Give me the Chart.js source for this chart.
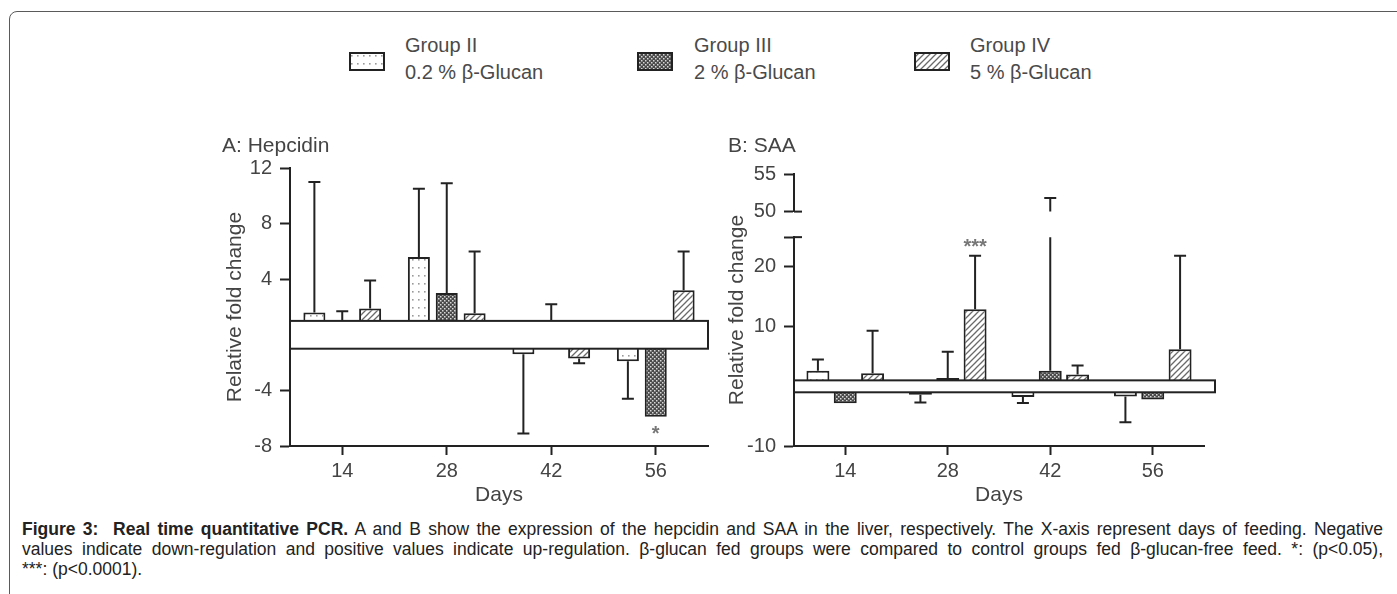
<!DOCTYPE html>
<html>
<head>
<meta charset="utf-8">
<script src="https://cdn.jsdelivr.net/npm/chart.js@4.4.1/dist/chart.umd.min.js"></script>
<style>
  body { margin: 0; width: 1397px; height: 594px; overflow: hidden; background: #fff; position: relative;
         font-family: "Liberation Sans", Arial, sans-serif; }
  .frame { position: absolute; left: 9px; top: 11px; width: 1420px; height: 640px;
           border: 1.5px solid #5a5a5a; border-radius: 8px; box-sizing: border-box; }
  .panel { position: absolute; top: 128px; }
  .legend-box { position: absolute; top: 52px; }
  .legend-text { position: absolute; top: 32px; font-size: 20px; line-height: 27px; color: #4a4a4a; white-space: nowrap; }
  .caption { position: absolute; left: 22px; top: 519px; width: 1361px; font-size: 17.5px; line-height: 20px; color: #222; }
  .caption div { white-space: nowrap; text-align: justify; text-align-last: justify; }
  .caption div.last { text-align-last: left; }
</style>
</head>
<body>
<div class="frame"></div>
<div id="legend"></div>
<canvas id="chartA" class="panel" style="left:212px" width="520" height="382"></canvas>
<canvas id="chartB" class="panel" style="left:718px" width="522" height="382"></canvas>
<div class="caption">
  <div><b>Figure 3:&nbsp; Real time quantitative PCR.</b> A and B show the expression of the hepcidin and SAA in the liver, respectively. The X-axis represent days of feeding. Negative</div>
  <div>values indicate down-regulation and positive values indicate up-regulation. β-glucan fed groups were compared to control groups fed β-glucan-free feed. *: (p&lt;0.05),</div>
  <div class="last">***: (p&lt;0.0001).</div>
</div>

<script>
const days = ['14', '28', '42', '56'];
const groupLabels = [['Group II', '0.2 % β-Glucan'], ['Group III', '2 % β-Glucan'], ['Group IV', '5 % β-Glucan']];

// A: Hepcidin - bar value and where its error bar ends
const hepGroup2 = [1.6, 5.6, -1.4, -1.9];
const hepGroup2Err = [11.0, 10.5, -7.1, -4.6];
const hepGroup3 = [1.05, 3.0, 1.05, -5.9];
const hepGroup3Err = [1.7, 10.9, 2.2, null];
const hepGroup4 = [1.9, 1.55, -1.7, 3.2];
const hepGroup4Err = [3.9, 6.0, -2.05, 6.0];
const hepGroup3Sig = ['', '', '', '*'];

// B: SAA
const saaGroup2 = [2.6, -1.4, -1.8, -1.7];
const saaGroup2Err = [4.5, -2.7, -2.8, -6.0];
const saaGroup3 = [-2.85, 1.4, 2.6, -2.2];
const saaGroup3Err = [null, 5.8, 51.8, null];
const saaGroup4 = [2.2, 12.9, 2.0, 6.2];
const saaGroup4Err = [9.3, 21.9, 3.5, 21.9];
const saaGroup4Sig = ['', '***', '', ''];

const hepTicks = [-8, -4, 0, 4, 8, 12];
const saaLowTicks = [-10, 0, 10, 20, 25];
const saaTopTicks = [50, 55];
const hiddenLabels = [0, 25];

const ink = '#444';
const line = '#222';
Chart.defaults.font.family = '"Liberation Sans", Arial, sans-serif';

function makePattern(kind) {
    let tile = document.createElement('canvas');
    let g = tile.getContext('2d');
    if (kind === 'dots') {
        tile.width = 6; tile.height = 8;
        g.fillStyle = '#fff'; g.fillRect(0, 0, 6, 8);
        g.fillStyle = '#9a9a9a'; g.fillRect(2, 3, 1.6, 1.6);
    } else if (kind === 'dense') {
        tile.width = 4; tile.height = 4;
        g.fillStyle = '#4a4a4a'; g.fillRect(0, 0, 4, 4);
        g.fillStyle = '#d8d8d8'; g.fillRect(0, 0, 1.5, 1.5); g.fillRect(2, 2, 1.5, 1.5);
    } else {
        tile.width = 6; tile.height = 6;
        g.fillStyle = '#fff'; g.fillRect(0, 0, 6, 6);
        g.strokeStyle = '#6a6a6a'; g.lineWidth = 1.3;
        g.beginPath();
        g.moveTo(0, 6); g.lineTo(6, 0);
        g.moveTo(-1, 1); g.lineTo(1, -1);
        g.moveTo(5, 7); g.lineTo(7, 5);
        g.stroke();
    }
    return g.createPattern(tile, 'repeat');
}
const patterns = [makePattern('dots'), makePattern('dense'), makePattern('hatch')];

// legend (shared by both panels)
const legendBoxLeft = [349, 637, 914];
const legendTextLeft = [405, 694, 970];
const legend = document.getElementById('legend');
groupLabels.forEach((lab, i) => {
    let box = document.createElement('canvas');
    box.width = 36; box.height = 19;
    box.className = 'legend-box';
    box.style.left = legendBoxLeft[i] + 'px';
    let g = box.getContext('2d');
    g.fillStyle = patterns[i]; g.fillRect(0, 0, 36, 19);
    g.strokeStyle = line; g.lineWidth = 2; g.strokeRect(1, 1, 34, 17);
    legend.appendChild(box);
    let txt = document.createElement('div');
    txt.className = 'legend-text';
    txt.style.left = legendTextLeft[i] + 'px';
    txt.innerHTML = lab[0] + '<br>' + lab[1];
    legend.appendChild(txt);
});

// white "no change" band, error bars, stars
const figDecor = {
    id: 'figDecor',
    afterDatasetsDraw(chart, args, opts) {
        const {ctx, chartArea} = chart;
        const y = chart.scales[opts.axis];
        const top = opts.topAxis ? chart.scales[opts.topAxis] : null;
        ctx.save();
        let bTop = y.getPixelForValue(opts.band[1]);
        let bBot = y.getPixelForValue(opts.band[0]);
        ctx.fillStyle = '#fff';
        ctx.strokeStyle = line;
        ctx.lineWidth = 2;
        ctx.fillRect(chartArea.left, bTop, chartArea.width + opts.bandExtra, bBot - bTop);
        ctx.strokeRect(chartArea.left, bTop, chartArea.width + opts.bandExtra, bBot - bTop);

        chart.data.datasets.forEach((ds, di) => {
            chart.getDatasetMeta(di).data.forEach((bar, i) => {
                let end = ds.errorEnd[i];
                let endPx = bar.y;
                if (end != null) {
                    ctx.beginPath();
                    if (top && end > y.max) {
                        ctx.moveTo(bar.x, bar.y); ctx.lineTo(bar.x, y.top);
                        ctx.moveTo(bar.x, top.getPixelForValue(top.min));
                        endPx = top.getPixelForValue(end);
                    } else {
                        ctx.moveTo(bar.x, bar.y);
                        endPx = y.getPixelForValue(end);
                    }
                    ctx.lineTo(bar.x, endPx);
                    ctx.moveTo(bar.x - 6, endPx); ctx.lineTo(bar.x + 6, endPx);
                    ctx.stroke();
                }
                let s = ds.sig && ds.sig[i];
                if (s) {
                    ctx.fillStyle = '#777';
                    ctx.font = 'bold 20px "Liberation Sans", Arial, sans-serif';
                    ctx.textAlign = 'center';
                    ctx.textBaseline = 'alphabetic';
                    let ty = ds.data[i] < 0 ? bar.y + 23 : endPx - 3;
                    ctx.fillText(s, bar.x, ty);
                }
            });
        });

        (opts.stubs || []).forEach(st => {
            let py = chart.scales[st[0]].getPixelForValue(st[1]);
            ctx.beginPath();
            ctx.moveTo(chartArea.left, py); ctx.lineTo(chartArea.left + 8, py);
            ctx.stroke();
        });

        if (opts.yTitle) {
            ctx.translate(chartArea.left - 57, (chartArea.top + chartArea.bottom) / 2);
            ctx.rotate(-Math.PI / 2);
            ctx.fillStyle = ink;
            ctx.font = '21px "Liberation Sans", Arial, sans-serif';
            ctx.textAlign = 'center';
            ctx.textBaseline = 'middle';
            ctx.fillText(opts.yTitle, 0, 0);
        }
        ctx.restore();
    }
};

function barSet(values, errs, sig, gi, axis, barPct) {
    return {
        label: groupLabels[gi].join(' '),
        data: values,
        errorEnd: errs,
        sig: sig,
        yAxisID: axis,
        backgroundColor: patterns[gi],
        borderColor: line,
        borderWidth: 2,
        borderSkipped: false,
        barPercentage: barPct,
        categoryPercentage: 0.8
    };
}

function xScale() {
    return {
        grid: { drawOnChartArea: false, offset: false, tickLength: 9, tickWidth: 2, tickColor: line },
        border: { color: line, width: 2 },
        ticks: { font: { size: 20 }, color: ink, padding: 4 },
        title: { display: true, text: 'Days', font: { size: 21 }, color: ink, padding: { top: 0, bottom: 2 } },
        afterFit: s => { s.height = 64; }
    };
}

function yScale(min, max, tickList, width) {
    return {
        type: 'linear',
        position: 'left',
        min: min,
        max: max,
        afterBuildTicks: s => { s.ticks = tickList.map(v => ({ value: v })); },
        ticks: { font: { size: 20 }, color: ink, padding: 8, autoSkip: false,
                 callback: v => hiddenLabels.includes(v) ? '' : v },
        grid: { drawOnChartArea: false, tickLength: 10, tickWidth: 2,
                tickColor: c => (c.tick && c.tick.value === 0) ? 'rgba(0,0,0,0)' : line },
        border: { color: line, width: 2 },
        afterFit: s => { s.width = width; }
    };
}

// Panel A
let yA = yScale(-8, 12, hepTicks, 68);
yA.title = { display: true, text: 'Relative fold change', font: { size: 21 }, color: ink, padding: { top: 1, bottom: 0 } };

new Chart(document.getElementById('chartA'), {
    type: 'bar',
    data: {
        labels: days,
        datasets: [
            barSet(hepGroup2, hepGroup2Err, null, 0, 'y', 0.79),
            barSet(hepGroup3, hepGroup3Err, hepGroup3Sig, 1, 'y', 0.79),
            barSet(hepGroup4, hepGroup4Err, null, 2, 'y', 0.79)
        ]
    },
    options: {
        responsive: false,
        animation: false,
        layout: { padding: { left: 10, right: 24, top: 0, bottom: 0 } },
        plugins: {
            legend: { display: false },
            tooltip: { enabled: false },
            title: { display: true, text: 'A: Hepcidin', align: 'start', color: ink,
                     font: { size: 21, weight: 'normal' }, padding: { top: 6, bottom: 8.8 } },
            figDecor: { axis: 'y', band: [-1, 1], bandExtra: 0 }
        },
        scales: { x: xScale(), y: yA }
    },
    plugins: [figDecor]
});

// Panel B, broken y axis made of stacked scales
let yLow = yScale(-10, 25, saaLowTicks, 66);
yLow.stack = 'saa'; yLow.stackWeight = 209.4;
let yGap = { type: 'linear', position: 'left', min: 25, max: 50, stack: 'saa', stackWeight: 25.6,
             ticks: { display: false }, grid: { display: false }, border: { display: false },
             afterFit: s => { s.width = 66; } };
let yTop = yScale(50, 55, saaTopTicks, 66);
yTop.stack = 'saa'; yTop.stackWeight = 37.7;

new Chart(document.getElementById('chartB'), {
    type: 'bar',
    data: {
        labels: days,
        datasets: [
            barSet(saaGroup2, saaGroup2Err, null, 0, 'yLow', 0.84),
            barSet(saaGroup3, saaGroup3Err, null, 1, 'yLow', 0.84),
            barSet(saaGroup4, saaGroup4Err, saaGroup4Sig, 2, 'yLow', 0.84)
        ]
    },
    options: {
        responsive: false,
        animation: false,
        layout: { padding: { left: 10, right: 36, top: 0, bottom: 0 } },
        plugins: {
            legend: { display: false },
            tooltip: { enabled: false },
            title: { display: true, text: 'B: SAA', align: 'start', color: ink,
                     font: { size: 21, weight: 'normal' }, padding: { top: 6, bottom: 14.8 } },
            figDecor: { axis: 'yLow', topAxis: 'yTop', band: [-1, 1], bandExtra: 11,
                        yTitle: 'Relative fold change', stubs: [['yTop', 50], ['yLow', 25]] }
        },
        scales: { x: xScale(), yLow: yLow, yGap: yGap, yTop: yTop }
    },
    plugins: [figDecor]
});
</script>
</body>
</html>
